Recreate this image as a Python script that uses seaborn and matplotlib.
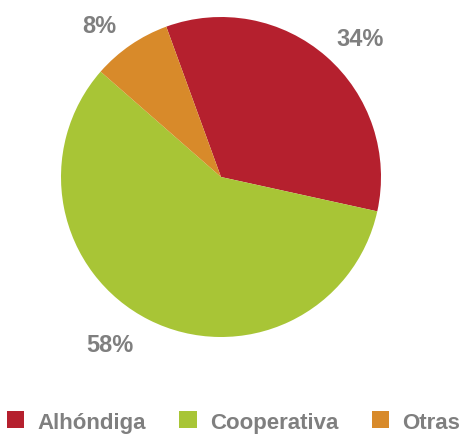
import matplotlib
matplotlib.use("Agg")
import matplotlib.pyplot as plt
import seaborn as sns
from matplotlib.patches import Patch

sns.set_theme(style="white")
plt.rcParams["font.family"] = ["Liberation Sans", "DejaVu Sans"]

categories = ["Alhóndiga", "Cooperativa", "Otras"]
shares = [34, 58, 8]
colors = ["#B5202E", "#A8C536", "#D88A2A"]
text_grey = "#7F7F7F"

# label anchor points (x centre, baseline) in pie units, one per slice
label_pos = [(0.869, 0.825), (-0.694, -1.0875), (-0.7625, 0.906)]

fig = plt.figure(figsize=(4.67, 4.39), dpi=100)
ax = fig.add_axes([61 / 467, 101 / 439, 320 / 467, 320 / 439])

wedges, texts, autotexts = ax.pie(
    shares,
    colors=colors,
    startangle=110,
    counterclock=False,
    autopct=lambda p: f"{p:.0f}%",
    pctdistance=1.24,
    wedgeprops=dict(linewidth=0),
    textprops=dict(color=text_grey, fontsize=17, fontweight="bold",
                   fontstyle="normal"),
)
for t, (x, y) in zip(autotexts, label_pos):
    t.set_position((x, y))
    t.set_ha("center")
    t.set_va("baseline")

ax.set_xlim(-1, 1)
ax.set_ylim(-1, 1)
ax.axis("off")

handles = [Patch(facecolor=c, edgecolor="none") for c in colors]
leg = fig.legend(
    handles,
    categories,
    loc="center",
    bbox_to_anchor=(0.5, 1 - 423 / 439),
    ncol=3,
    frameon=False,
    fontsize=16,
    handlelength=0.77,
    handleheight=0.8,
    handletextpad=0.6,
    columnspacing=1.5,
)
for t in leg.get_texts():
    t.set_color(text_grey)
    t.set_fontweight("bold")

fig.savefig("out.png", dpi=100, facecolor="white")
